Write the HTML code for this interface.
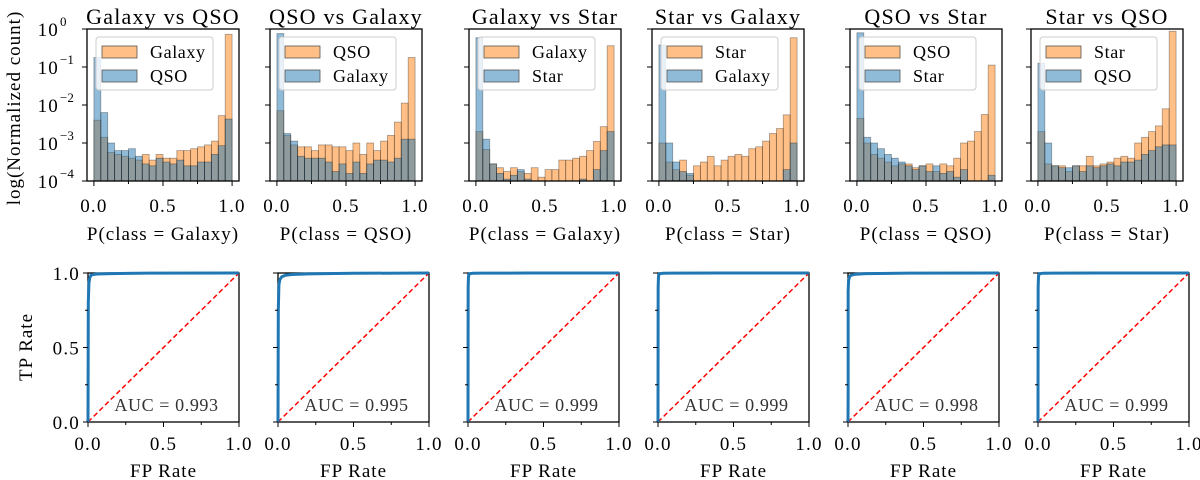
<!DOCTYPE html>
<html><head><meta charset="utf-8"><style>
html,body{margin:0;padding:0;background:#fff;}
svg{display:block;font-family:"Liberation Serif",serif;}
</style></head><body>
<svg id="fig" width="1200" height="480" viewBox="0 0 1200 480" xmlns="http://www.w3.org/2000/svg"></svg>
<script>
const titles = ["Galaxy vs QSO","QSO vs Galaxy","Galaxy vs Star","Star vs Galaxy","QSO vs Star","Star vs QSO"];
const posLabels = ["Galaxy","QSO","Galaxy","Star","QSO","Star"];
const negLabels = ["QSO","Galaxy","Star","Galaxy","Star","QSO"];
const xLabels = ["P(class = Galaxy)","P(class = QSO)","P(class = Galaxy)","P(class = Star)","P(class = QSO)","P(class = Star)"];
// log10 normalized counts, 20 bins of width 0.05
const orangeLog = [
 [-2.4,-2.85,-3.25,-3.3,-3.35,-3.4,-3.45,-3.3,-3.45,-3.3,-3.4,-3.4,-3.2,-3.2,-3.15,-3.1,-3.05,-2.95,-2.28,-0.14],
 [-2.15,-2.8,-3.05,-3.1,-3.1,-3.2,-3.05,-3.05,-3.1,-3.1,-3.2,-3.0,-3.3,-3.0,-3.2,-2.95,-2.8,-2.45,-1.95,-0.75],
 [-2.7,-3.17,-3.55,-3.65,-3.75,-3.65,-3.75,-3.8,-3.65,-3.9,-3.7,-3.7,-3.45,-3.45,-3.4,-3.35,-3.2,-2.96,-2.57,-0.44],
 [-3.0,-3.5,-3.7,-3.45,-3.85,-3.6,-3.5,-3.35,-3.6,-3.45,-3.35,-3.3,-3.35,-3.15,-3.1,-2.95,-2.75,-2.62,-2.26,-0.23],
 [-2.35,-3.0,-3.3,-3.4,-3.5,-3.6,-3.55,-3.55,-3.65,-3.6,-3.55,-3.75,-3.55,-3.6,-3.4,-3.0,-2.95,-2.7,-2.25,-0.95],
 [-2.7,-3.55,-3.6,-3.6,-3.75,-3.6,-3.6,-3.35,-3.6,-3.55,-3.5,-3.4,-3.35,-3.4,-3.0,-2.85,-2.7,-2.55,-2.1,-0.06]
];
const blueLog = [
 [-0.75,-2.2,-3.0,-3.2,-3.2,-3.15,-3.35,-3.55,-3.6,-3.4,-3.5,-3.55,-3.45,-3.6,-3.6,-3.5,-3.5,-3.3,-3.07,-2.37],
 [-0.12,-2.75,-2.95,-3.35,-3.4,-3.4,-3.4,-3.5,-3.75,-3.55,-3.8,-3.5,-3.8,-3.55,-3.45,-3.45,-3.5,-3.4,-2.9,-2.9],
 [-0.23,-2.9,-3.55,-3.8,-3.95,-3.85,-3.7,-3.95,-4,-4,-4,-4,-4,-4,-4,-3.95,-4,-3.7,-3.2,-2.7],
 [-0.42,-3.0,-3.5,-3.75,-3.8,-4,-4,-4,-4,-4,-4,-4,-4,-4,-4,-4,-4,-4,-3.7,-3.0],
 [-0.1,-2.85,-3.0,-3.15,-3.3,-3.4,-3.5,-3.6,-3.7,-3.6,-3.75,-3.6,-3.8,-3.75,-3.9,-3.7,-4,-4,-4,-3.85],
 [-0.9,-3.0,-3.6,-3.65,-3.65,-3.6,-3.75,-3.6,-3.65,-3.6,-3.55,-3.6,-3.5,-3.5,-3.45,-3.3,-3.2,-3.1,-3.05,-3.05]
];
const rocFpr = [
 [0,0.002,0.006,0.012,0.02,0.035,0.06,0.15,0.4,1],
 [0,0.002,0.006,0.012,0.025,0.05,0.09,0.2,0.5,1],
 [0,0.001,0.003,0.006,0.01,0.03,0.1,0.4,1],
 [0,0.001,0.003,0.006,0.01,0.03,0.1,0.4,1],
 [0,0.001,0.001,0.004,0.01,0.02,0.05,0.12,0.4,1],
 [0,0.001,0.003,0.006,0.01,0.03,0.1,0.4,1]
];
const rocTpr = [
 [0,0.8,0.93,0.97,0.985,0.99,0.993,0.996,0.999,1],
 [0,0.75,0.92,0.955,0.975,0.985,0.99,0.994,0.998,1],
 [0,0.9,0.97,0.99,0.995,0.998,0.999,1,1],
 [0,0.9,0.97,0.99,0.995,0.998,0.999,1,1],
 [0,0.2,0.88,0.95,0.975,0.985,0.992,0.996,0.999,1],
 [0,0.9,0.97,0.99,0.995,0.998,0.999,1,1]
];
const aucLabels = ["AUC = 0.993","AUC = 0.995","AUC = 0.999","AUC = 0.999","AUC = 0.998","AUC = 0.999"];
const logTicks = [0,-1,-2,-3,-4];
const linTickLabels = ["0.0","0.5","1.0"];

const NS="http://www.w3.org/2000/svg";
const svg=document.getElementById('fig');
function el(tag,attrs,parent,text){const e=document.createElementNS(NS,tag);for(const k in attrs)e.setAttribute(k,attrs[k]);if(text!==undefined)e.textContent=text;(parent||svg).appendChild(e);return e;}

const histLeft=[87,270,469,652,850,1031], HW=152, HT=29, HB=181;
const rocLeft=[88,278,468,658,848,1038], RW=151, RT=273, RB=422;
const TICK={'font-size':19,'letter-spacing':1.2};
const LAB={'font-size':19,'letter-spacing':1};
function T(o,extra){return Object.assign({},o,extra);}

for(let p=0;p<6;p++){
  const g=el('g',{});
  
  
  const L=histLeft[p];
  const xs=v=>L+(v+0.05)/1.1*HW;
  const ys=lv=>HB-(Math.max(lv,-4.2)+4)/4*(HB-HT);
  const clip=el('clipPath',{id:'hc'+p},g);el('rect',{x:L,y:HT,width:HW,height:HB-HT},clip);
  const bars=el('g',{'clip-path':'url(#hc'+p+')'},g);
  [[orangeLog[p],'#ff7f0e','orange'],[blueLog[p],'#1f77b4','blue']].forEach(([arr,c,nm])=>{
    arr.forEach((lv,i)=>{
      const x0=xs(i*0.05),x1=xs((i+1)*0.05),y=ys(lv);
      const r=el('rect',{x:x0,y:y,width:x1-x0,height:Math.max(0,HB+2-y),fill:c,'fill-opacity':0.5,stroke:'#000','stroke-opacity':0.35,'stroke-width':0.8},bars);
      
      
    });
  });
  el('rect',{x:L,y:HT,width:HW,height:HB-HT,fill:'none',stroke:'#000','stroke-width':1.3},g);
  [0,0.25,0.5,0.75,1].forEach((v,i)=>{
    const x=xs(v);el('line',{x1:x,x2:x,y1:HB,y2:HB+(i%2?3:5),stroke:'#000','stroke-width':1},g);
  });
  linTickLabels.forEach((t,i)=>{el('text',T(TICK,{x:xs(i*0.5),y:212,'text-anchor':'middle'}),g,t);});
  logTicks.forEach(lv=>{
    const y=ys(lv);el('line',{x1:L-5,x2:L,y1:y,y2:y,stroke:'#000','stroke-width':1},g);
    if(p===0){
      el('text',T(TICK,{x:L-28,y:y+7,'text-anchor':'end'}),g,'10');
      el('text',{x:L-27,y:y-3,'font-size':13},g,lv===0?'0':'\u2212'+(-lv));
    }
  });
  const tt=el('text',{x:L+HW/2,y:24,'font-size':22,'letter-spacing':1.2,'text-anchor':'middle'},g,titles[p]);
  
  
  const xl=el('text',T(LAB,{x:L+HW/2,y:240,'text-anchor':'middle'}),g,xLabels[p]);
  
  
  const lg=el('g',{},g);
  
  
  el('rect',{x:L+9,y:37,width:117,height:53,rx:3,fill:'#fff','fill-opacity':0.8,stroke:'#ccc','stroke-width':1},lg);
  el('rect',{x:L+15,y:46,width:35,height:12,fill:'#ff7f0e','fill-opacity':0.5,stroke:'#555','stroke-width':0.8},lg);
  el('rect',{x:L+15,y:70,width:35,height:12,fill:'#1f77b4','fill-opacity':0.5,stroke:'#555','stroke-width':0.8},lg);
  el('text',{x:L+63,y:58,'font-size':18,'letter-spacing':0.6},lg,posLabels[p]);
  el('text',{x:L+63,y:82,'font-size':18,'letter-spacing':0.6},lg,negLabels[p]);
}
const yl=el('text',T(LAB,{x:0,y:0,'text-anchor':'middle',transform:'translate(20,108) rotate(-90)'}),svg,'log(Normalized count)');



for(let p=0;p<6;p++){
  const g=el('g',{});
  
  
  const L=rocLeft[p];
  const xs=v=>L+v*RW, ys=v=>RB-v*(RB-RT);
  el('line',{x1:xs(0),y1:ys(0),x2:xs(1),y2:ys(1),stroke:'#f00','stroke-width':1.5,'stroke-dasharray':'5,3'},g);
  el('rect',{x:L,y:RT,width:RW,height:RB-RT,fill:'none',stroke:'#000','stroke-width':1.3},g);
  const pts=rocFpr[p].map((f,i)=>xs(f)+','+ys(rocTpr[p][i])).join(' ');
  const c=el('polyline',{points:pts,fill:'none',stroke:'#1f77b4','stroke-width':3,'stroke-linejoin':'round'},g);
  
  
  [0,0.25,0.5,0.75,1].forEach((v,i)=>{
    const x=xs(v),y=ys(v),len=i%2?3:5;
    el('line',{x1:x,x2:x,y1:RB,y2:RB+len,stroke:'#000','stroke-width':1},g);
    el('line',{x1:L-len,x2:L,y1:y,y2:y,stroke:'#000','stroke-width':1},g);
  });
  linTickLabels.forEach((t,i)=>{
    el('text',T(TICK,{x:xs(i*0.5),y:450,'text-anchor':'middle'}),g,t);
    if(p===0) el('text',T(TICK,{x:L-8,y:ys(i*0.5)+7,'text-anchor':'end'}),g,t);
  });
  const a=el('text',{x:L+RW*0.52,y:411,'font-size':18,'letter-spacing':0.6,'text-anchor':'middle',fill:'#333'},g,aucLabels[p]);
  
  
  const xl=el('text',T(LAB,{x:L+RW/2,y:477,'text-anchor':'middle'}),g,'FP Rate');
  
  
}
const yl2=el('text',T(LAB,{x:0,y:0,'text-anchor':'middle',transform:'translate(32,347) rotate(-90)'}),svg,'TP Rate');


</script>
</body></html>
